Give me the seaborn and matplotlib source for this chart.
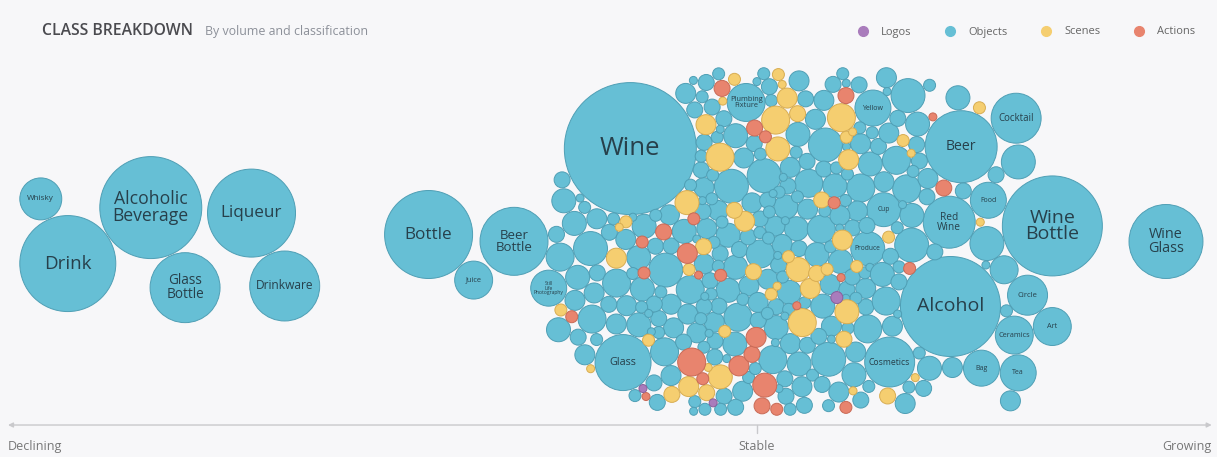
import numpy as np
import pandas as pd
import matplotlib
matplotlib.use("Agg")
import matplotlib.pyplot as plt
from matplotlib.lines import Line2D
import seaborn as sns

# labelled bubbles (all of class "Objects"): name, volume, trend in %
labels = ["Whisky", "Drink", "Alcoholic\nBeverage", "Glass\nBottle", "Liqueur", "Drinkware",
          "Bottle", "Juice", "Beer\nBottle",
          "Wine", "Still\nLife\nPhotography", "Glass", "Plumbing\nFixture", "Produce", "Yellow",
          "Cup", "Cosmetics", "Alcohol", "Red\nWine", "Beer", "Food", "Bag", "Ceramics",
          "Cocktail", "Tea", "Circle", "Art", "Wine\nBottle", "Wine\nGlass"]
label_volume = [110, 576, 650, 306, 484, 306,
                484, 90, 289,
                1089, 81, 196, 90, 72, 81,
                72, 156, 625, 169, 324, 81, 81, 90,
                156, 81, 100, 90, 625, 342]
label_trend = [-95.5, -91.9, -81.0, -76.5, -67.4, -63.2,
               -43.8, -38.1, -32.2,
               -15.0, -22.6, -15.8, -0.3, 12.8, 13.5,
               17.9, 17.9, 24.2, 25.0, 26.3, 28.0, 28.4, 31.6,
               31.9, 33.5, 34.0, 36.4, 37.5, 54.6]
# layout seed only: start the bubble high (1), middle (0) or low (-1)
label_seed = [1, -1, 1, -1, 1, -1,
              0, -1, 0,
              1, 0, -1, 1, 0, 1,
              0, -1, -1, 0, 1, 0, -1, -1,
              1, -1, -1, -1, 0, 0]

# unlabelled bubbles, counted per trend band (rows) and volume level (columns)
band_trend = [-21, -13, -5, 3, 11, 19, 27, 34]
level_volume = [4, 9, 16, 25, 36, 49, 72]
objects_counts = [[1, 2, 4, 4, 4, 2, 1],
                  [3, 7, 8, 7, 4, 2, 1],
                  [8, 18, 17, 11, 6, 2, 1],
                  [8, 16, 16, 10, 6, 3, 1],
                  [6, 12, 12, 10, 6, 3, 2],
                  [3, 7, 8, 6, 4, 3, 2],
                  [1, 1, 2, 1, 1, 1, 1],
                  [0, 0, 0, 1, 0, 0, 1]]
scenes_counts = [[1, 1, 0, 0, 0, 0, 0],
                 [1, 2, 1, 1, 0, 0, 0],
                 [2, 3, 3, 3, 2, 1, 0],
                 [2, 3, 3, 2, 2, 2, 0],
                 [2, 3, 2, 2, 1, 1, 0],
                 [2, 2, 1, 0, 0, 0, 0],
                 [1, 1, 0, 0, 0, 0, 0],
                 [0, 0, 0, 0, 0, 0, 0]]
actions_counts = [[0, 1, 0, 0, 0, 0, 0],
                  [1, 2, 1, 0, 0, 0, 0],
                  [1, 3, 2, 2, 0, 1, 0],
                  [1, 2, 2, 1, 1, 0, 0],
                  [1, 2, 1, 0, 0, 0, 0],
                  [1, 1, 1, 0, 0, 0, 0],
                  [0, 0, 0, 0, 0, 0, 0],
                  [0, 0, 0, 0, 0, 0, 0]]
logos_counts = [[0, 0, 0, 0, 0, 0, 0],
                [1, 0, 0, 0, 0, 0, 0],
                [1, 0, 0, 0, 0, 0, 0],
                [0, 0, 0, 0, 0, 0, 0],
                [0, 1, 0, 0, 0, 0, 0],
                [0, 0, 0, 0, 0, 0, 0],
                [0, 0, 0, 0, 0, 0, 0],
                [0, 0, 0, 0, 0, 0, 0]]

classes = ["Logos", "Objects", "Scenes", "Actions"]
fills = {"Logos": "#a97cbc", "Objects": "#66bfd5", "Scenes": "#f5ce70", "Actions": "#e8846e"}
edges = {"Logos": "#8a5f9c", "Objects": "#4f9fb5", "Scenes": "#d8ad52", "Actions": "#c96a56"}

# ---- build table
rows = []
for name, v, t, sd in zip(labels, label_volume, label_trend, label_seed):
    rows.append((name, "Objects", v, t, sd))
count_tables = {"Objects": objects_counts, "Scenes": scenes_counts,
                "Actions": actions_counts, "Logos": logos_counts}
for bi, t in enumerate(band_trend):
    for li in range(len(level_volume) - 1, -1, -1):
        for cls in classes:
            for _ in range(count_tables[cls][bi][li]):
                rows.append(("", cls, level_volume[li], t, np.nan))
df = pd.DataFrame(rows, columns=["label", "cls", "volume", "trend", "seed"])

# ---- packing (force style: pull to trend on x, to centre on y, no overlap)
RS = 0.267        # radius in axis units per sqrt(volume)
Y_HALF = 23.2     # vertical room for bubbles
PAD = 0.15

tx = df["trend"].to_numpy(float)
r = RS * np.sqrt(df["volume"].to_numpy(float))
n = len(df)
k = np.arange(n)
golden = np.pi * (3 - np.sqrt(5))
rho = 1.0 * np.sqrt(k + 0.5)
x = tx + 0.3 * rho * np.cos(k * golden)
y = rho * np.sin(k * golden)
seed = df["seed"].to_numpy(float)
has_seed = ~np.isnan(seed)
y[has_seed] = seed[has_seed] * (Y_HALF - r[has_seed]) * 0.8
x[has_seed] = tx[has_seed]
y = np.clip(y, -Y_HALF + r, Y_HALF - r)

w = r ** 2
share = w[None, :] / (w[:, None] + w[None, :])
rsum = r[:, None] + r[None, :] + PAD


def collide(x, y, strength):
    dx = x[:, None] - x[None, :]
    dy = y[:, None] - y[None, :]
    d = np.sqrt(dx * dx + dy * dy) + 1e-6
    ov = rsum - d
    np.fill_diagonal(ov, 0)
    ov = np.maximum(ov, 0)
    f = strength * ov * share / d
    return x + (f * dx).sum(1), y + (f * dy).sum(1)


steps = 600
for s in range(steps):
    x += (tx - x) * 0.16
    y += -y * 0.008
    for _ in range(2):
        x, y = collide(x, y, 0.5)
        y = np.clip(y, -Y_HALF + r, Y_HALF - r)
for s in range(150):
    x, y = collide(x, y, 0.5)
    y = np.clip(y, -Y_HALF + r, Y_HALF - r)
df["x"] = x
df["y"] = y

# ---- figure
sns.set_style("white")
plt.rcParams["font.family"] = ["Open Sans", "DejaVu Sans"]
BG = "#f7f7f9"
fig = plt.figure(figsize=(12.17, 4.57), dpi=100, facecolor=BG)
ax = fig.add_axes([0, 0, 1, 1])
ax.set_facecolor(BG)
ax.set_xlim(-101.07, 61.41)
ax.set_ylim(-28.77, 32.24)
ax.axis("off")

ppu = ax.transData.transform((1, 0))[0] - ax.transData.transform((0, 0))[0]
c = (2 * RS * ppu * 72 / fig.dpi) ** 2
vmin, vmax = df["volume"].min(), df["volume"].max()
for cls in ["Objects", "Scenes", "Actions", "Logos"]:
    sub = df[df["cls"] == cls]
    sns.scatterplot(data=sub, x="x", y="y", size="volume", sizes=(c * vmin, c * vmax),
                    size_norm=(vmin, vmax), color=fills[cls], edgecolor=edges[cls],
                    linewidth=0.7, legend=False, ax=ax, zorder=2)

# bubble labels
for _, row in df[df["label"] != ""].iterrows():
    r_px = RS * np.sqrt(row["volume"]) * ppu
    lines = row["label"].split("\n")
    longest = max(len(s) for s in lines)
    fs_px = min(0.39 * r_px, 1.8 * r_px / (0.58 * longest), 1.5 * r_px / (1.05 * len(lines)))
    ax.text(row["x"], row["y"], row["label"], ha="center", va="center",
            fontsize=fs_px * 72 / fig.dpi, color="#27404b", linespacing=0.9, zorder=3)

# trend axis
axis_y = -24.5
ax.annotate("", xy=(-100, axis_y), xytext=(60.7, axis_y),
            arrowprops=dict(arrowstyle="<|-|>", color="#c9c9cc", lw=1.0,
                            mutation_scale=7, shrinkA=0, shrinkB=0), zorder=1)
ax.plot([0, 0], [axis_y, axis_y - 1.0], color="#c9c9cc", lw=1.0, zorder=1)
ax.text(-100, -27.4, "Declining", ha="left", va="center", fontsize=9, color="#777777")
ax.text(0, -27.4, "Stable", ha="center", va="center", fontsize=9, color="#777777")
ax.text(60.7, -27.4, "Growing", ha="right", va="center", fontsize=9, color="#777777")

# header
fig.text(42 / 1217, 1 - 31 / 457, "CLASS BREAKDOWN", ha="left", va="center",
         fontsize=11.3, fontweight="semibold", color="#4a4a4f")
fig.text(205 / 1217, 1 - 31 / 457, "By volume and classification", ha="left", va="center",
         fontsize=8.9, color="#8c9099")

handles = [Line2D([], [], marker="o", linestyle="", markersize=7,
                  markerfacecolor=fills[cl], markeredgecolor=fills[cl]) for cl in classes]
fig.legend(handles, classes, loc="center right", bbox_to_anchor=(1205 / 1217, 1 - 32 / 457),
           ncol=4, frameon=False, fontsize=8, labelcolor="#666666",
           handletextpad=1.1, columnspacing=3.0, handlelength=1.0)

fig.savefig("out.png", dpi=100, facecolor=BG)
